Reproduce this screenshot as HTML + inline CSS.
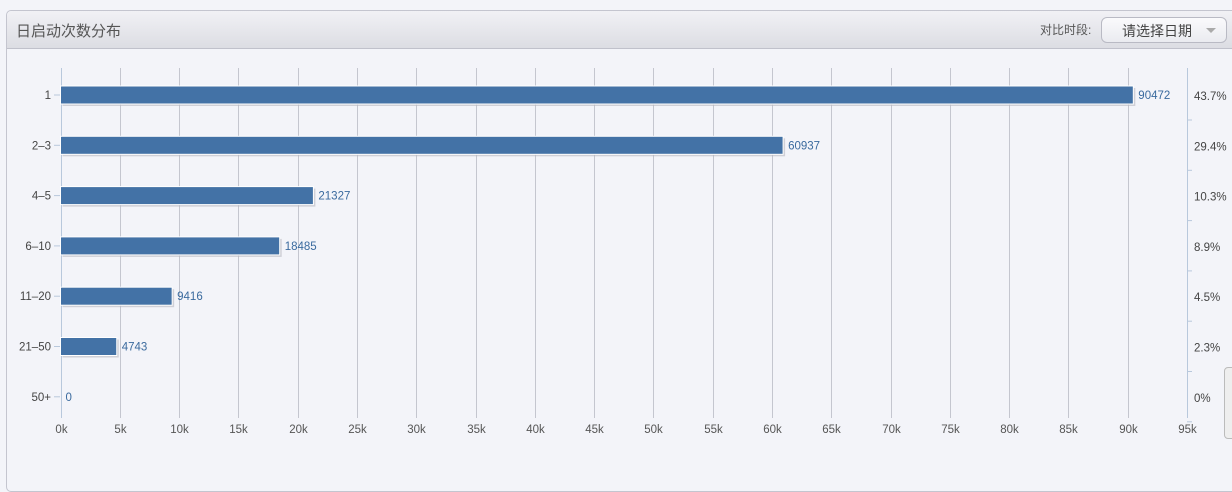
<!DOCTYPE html>
<html><head><meta charset="utf-8"><style>
html,body{margin:0;width:1232px;height:445px;background:#f3f4f9;overflow:hidden;font-family:"Liberation Sans","Noto Sans CJK SC",sans-serif;}
.panel{position:absolute;left:6px;top:10px;width:1240px;height:480px;border:1px solid #c4c5cf;border-radius:5px;background:#f3f4f9;}
.hdr{position:absolute;left:0;top:0;right:0;height:37px;background:linear-gradient(#f1f1f5,#dcdde3);border-bottom:1px solid #c0c1cb;border-radius:5px 5px 0 0;}
.title{font-size:15px;color:#555;}
.cmp{position:absolute;left:1040px;top:21px;font-size:12px;color:#555;}
.sel{position:absolute;left:1101px;top:17px;width:124px;height:24px;border:1px solid #b9bac4;border-radius:6px;background:linear-gradient(#fafafc,#eaebf0);font-size:14px;color:#444;}
</style></head><body>
<div class="panel"><div class="hdr"></div></div>
<div class="title" style="position:absolute;left:16px;top:20px">日启动次数分布</div>
<div class="cmp">对比时段:</div>
<div class="sel"><span style="position:absolute;left:20px;top:3px">请选择日期</span><span style="position:absolute;left:104px;top:10px;width:0;height:0;border-left:5px solid transparent;border-right:5px solid transparent;border-top:5px solid #aaa"></span></div>
<div style="position:absolute;left:1224px;top:367px;width:12px;height:70px;border:1px solid #bbb;border-radius:4px;background:#eee"></div>
<svg id="c" width="1232" height="445" style="position:absolute;left:0;top:0"></svg>
<script>
const categories=["1","2–3","4–5","6–10","11–20","21–50","50+"];
const values=[90472,60937,21327,18485,9416,4743,0];
const percents=["43.7%","29.4%","10.3%","8.9%","4.5%","2.3%","0%"];
const ticks=[0,5,10,15,20,25,30,35,40,45,50,55,60,65,70,75,80,85,90,95];
const svg=document.getElementById('c');const NS='http://www.w3.org/2000/svg';
const x0=60.5,x1=1187,xmax=95000,yTop=68,yBot=418,rowH=50.3,row0=95;
const xs=v=>x0+(x1-x0)*v/xmax, ys=i=>row0+i*rowH;
function mk(t,a,p){const e=document.createElementNS(NS,t);for(const k in a)e.setAttribute(k,a[k]);(p||svg).appendChild(e);return e;}
ticks.forEach(t=>{const x=Math.round(xs(t*1000))+0.5;
const l=mk('line',{x1:x,x2:x,y1:yTop,y2:yBot,stroke:t==0?'#b8c8dc':'#c4c6cf','stroke-width':1});


const tx=mk('text',{x:x,y:433,'text-anchor':'middle','font-size':11.5,fill:'#555'});tx.textContent=t+'k';

});
const ra=mk('line',{x1:x1+0.5,x2:x1+0.5,y1:yTop,y2:yBot,stroke:'#b8c8dc'});


categories.forEach((c,i)=>{const y=ys(i);
mk('line',{x1:54,x2:60,y1:y,y2:y,stroke:'#b8c8dc'});
mk('line',{x1:x1,x2:x1+5,y1:y+25,y2:y+25,stroke:'#b8c8dc'});
const lb=mk('text',{x:51,y:y+4,'text-anchor':'end','font-size':11.5,fill:'#444'});lb.textContent=c;


const w=xs(values[i])-x0;
if(w>0){mk('rect',{x:x0+2,y:y-7,width:w,height:18,fill:'#b8b8c0',opacity:0.6});
const b=mk('rect',{x:x0,y:y-9,width:w,height:18,fill:'#4372a6',stroke:'#fff','stroke-width':1});

}
const v=mk('text',{x:xs(values[i])+5,y:y+4,'font-size':11.5,fill:'#3a6a9e'});v.textContent=values[i];


const p=mk('text',{x:1194,y:y+5,'font-size':11.5,fill:'#444'});p.textContent=percents[i];

});
</script></body></html>
